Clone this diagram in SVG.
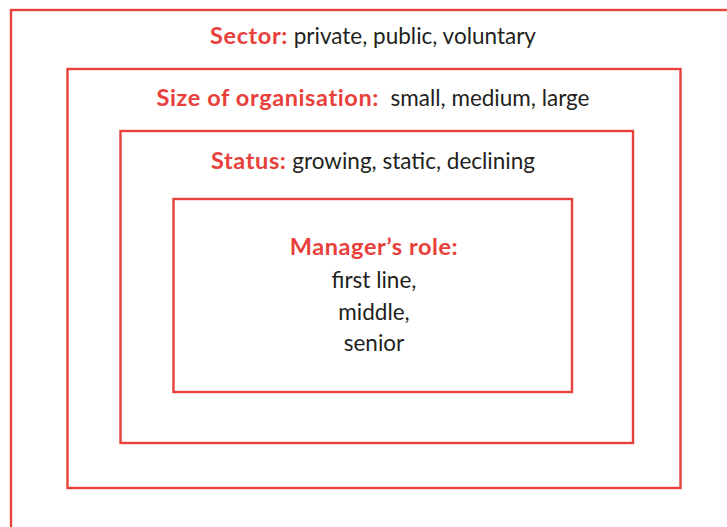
<svg xmlns="http://www.w3.org/2000/svg" width="727" height="527" viewBox="0 0 727 527">
  <style>
    .frame { fill: none; stroke: #e8403a; stroke-width: 2.4; }
    .txt { font-family: Lato, "Open Sans", "Liberation Sans", sans-serif; font-size: 22.5px; fill: #231f20; text-anchor: middle; }
    .lbl { font-weight: bold; font-size: 23.5px; letter-spacing: 0.6px; fill: #e8403a; }
  </style>
  <rect width="727" height="527" fill="#ffffff"/>

  <g id="sector">
    <rect class="frame" x="11" y="10" width="740" height="540"/>
    <text class="txt" x="373" y="44"><tspan class="lbl">Sector:</tspan> private, public, voluntary</text>
  </g>

  <g id="size">
    <rect class="frame" x="67.5" y="69" width="613" height="419"/>
    <text class="txt" x="373" y="106" xml:space="preserve"><tspan class="lbl">Size of organisation:</tspan>  small, medium, large</text>
  </g>

  <g id="status">
    <rect class="frame" x="120.5" y="131" width="512.5" height="312"/>
    <text class="txt" x="373" y="169"><tspan class="lbl">Status:</tspan> growing, static, declining</text>
  </g>

  <g id="role">
    <rect class="frame" x="173.5" y="199" width="398.5" height="193"/>
    <text class="txt lbl" x="374" y="255">Manager’s role:</text>
    <text class="txt" x="374" y="288">first line,</text>
    <text class="txt" x="374" y="320">middle,</text>
    <text class="txt" x="374" y="351">senior</text>
  </g>

  <g id="connectors"></g>
</svg>
